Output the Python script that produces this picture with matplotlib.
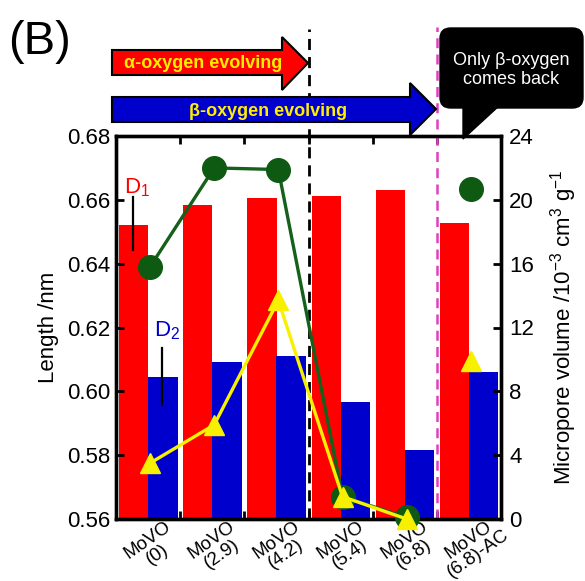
import matplotlib
matplotlib.use("Agg")
import matplotlib.pyplot as plt
from matplotlib.patches import Polygon, FancyBboxPatch

plt.rcParams['font.family'] = ['Liberation Sans', 'DejaVu Sans']
plt.rcParams['mathtext.fontset'] = 'custom'
plt.rcParams['mathtext.rm'] = 'Liberation Sans'
plt.rcParams['mathtext.it'] = 'Liberation Sans'
plt.rcParams['mathtext.default'] = 'regular'

samples = ["MoVO\n(0)", "MoVO\n(2.9)", "MoVO\n(4.2)", "MoVO\n(5.4)", "MoVO\n(6.8)", "MoVO\n(6.8)-AC"]
d1 = [0.652, 0.6585, 0.6605, 0.6613, 0.663, 0.6527]
d2 = [0.6045, 0.6093, 0.6112, 0.5967, 0.5815, 0.6062]
micro_green = [15.8, 22.0, 21.9, 1.4, 0.1, 20.7]
micro_yellow = [3.5, 5.9, 13.7, 1.4, 0.0, 9.9]

W, H = 585, 581
fig = plt.figure(figsize=(W / 100, H / 100), dpi=100)
ax = fig.add_axes([116 / W, 1 - 519 / H, 385 / W, 383 / H])
ax2 = ax.twinx()

def px(x, y):
    return (x / W, 1 - y / H)

# bars
n = len(samples)
idx = list(range(n))
ax.bar([i + 0.275 for i in idx], d1, width=0.455, color='#ff0000', zorder=1)
ax.bar([i + 0.73 for i in idx], d2, width=0.46, color='#0000cc', zorder=1)
ax.set_xlim(0, n)
ax.set_ylim(0.56, 0.68)
ax.set_yticks([0.56, 0.58, 0.60, 0.62, 0.64, 0.66, 0.68])
ax.set_yticklabels(["0.56", "0.58", "0.60", "0.62", "0.64", "0.66", "0.68"])
ax.set_xticks([1, 2, 3, 4, 5])
ax.set_xticklabels([])
ax.tick_params(axis='both', direction='in', width=2, length=6, labelsize=16,
               top=True, pad=4)
ax.set_ylabel("Length /nm", fontsize=16, labelpad=6)

# dashed separators
ax.axvline(3, ymin=0, ymax=(519 - 29) / 383, color='black', lw=2,
           ls=(0, (4, 2.5)), clip_on=False, zorder=3)
ax.axvline(5, ymin=0, ymax=(519 - 27) / 383, color='#e040c0', lw=1.8,
           ls=(0, (4, 2.5)), clip_on=False, zorder=3)

# D1 / D2 markers
ax.text(0.32, 0.6637, "D$_1$", color='#ff0000', fontsize=16, ha='center', va='center')
ax.plot([0.26, 0.26], [0.6609, 0.6443], color='black', lw=1.6)
ax.text(0.79, 0.619, "D$_2$", color='#0000cc', fontsize=16, ha='center', va='center')
ax.plot([0.72, 0.72], [0.6136, 0.5957], color='black', lw=1.6)

# x labels
for i, lab in enumerate(samples):
    ax.text(i + 0.57, -0.074, lab, transform=ax.get_xaxis_transform(),
            rotation=35, rotation_mode='anchor', ha='center', va='center',
            multialignment='center', fontsize=13.5, linespacing=0.95)

# micropore volume
xs = [i + 0.53 for i in idx]
ax2.set_zorder(ax.get_zorder() + 1)
ax2.patch.set_visible(False)
ax2.plot(xs[:5], micro_green[:5], color='#15601a', lw=2.4, marker='o',
         markersize=17, markerfacecolor='#0e5a12', markeredgecolor='#0e5a12',
         clip_on=False, zorder=4)
ax2.plot(xs[5], micro_green[5], 'o', color='#0e5a12', markersize=17, zorder=4)
ax2.plot(xs[:5], micro_yellow[:5], color='#f7f000', lw=2.4, marker='^',
         markersize=14, markerfacecolor='#f7f000', markeredgecolor='#f7f000',
         clip_on=False, zorder=5)
ax2.plot(xs[5], micro_yellow[5], '^', color='#f7f000', markersize=14, zorder=5)
ax2.set_ylim(0, 24)
ax2.set_yticks([0, 4, 8, 12, 16, 20, 24])
ax2.tick_params(axis='y', direction='in', width=2, length=6, labelsize=16, pad=6)
ax2.set_ylabel("Micropore volume /10$^{-3}$ cm$^3$ g$^{-1}$", fontsize=16, labelpad=10)

for a in (ax, ax2):
    for s in a.spines.values():
        s.set_linewidth(2.4)

# arrows above the plot
red_arrow = [px(112, 50), px(282, 50), px(282, 37), px(308, 63),
             px(282, 90), px(282, 75), px(112, 75)]
blue_arrow = [px(112, 97), px(410, 97), px(410, 83), px(436, 109),
              px(410, 135), px(410, 122), px(112, 122)]
fig.patches.append(Polygon(red_arrow, closed=True, facecolor='#ff0000',
                           edgecolor='black', lw=1.5, transform=fig.transFigure))
fig.patches.append(Polygon(blue_arrow, closed=True, facecolor='#0000cc',
                           edgecolor='black', lw=1.5, transform=fig.transFigure))
fig.text(*px(203, 64), "α-oxygen evolving", color='#ffee00', fontsize=13,
         fontweight='bold', ha='center', va='center')
fig.text(*px(268, 111), "β-oxygen evolving", color='#ffee00', fontsize=13,
         fontweight='bold', ha='center', va='center')

# callout
x0, y0 = px(440, 108)
x1, y1 = px(583, 28)
fig.patches.append(FancyBboxPatch((x0, y0), x1 - x0, y1 - y0,
                                  boxstyle="round,pad=0,rounding_size=0.018",
                                  facecolor='black', edgecolor='black',
                                  transform=fig.transFigure))
fig.patches.append(Polygon([px(463, 105), px(463, 139), px(500, 105)], closed=True,
                           facecolor='black', edgecolor='black',
                           transform=fig.transFigure))
fig.text(*px(511, 70), "Only β-oxygen\ncomes back", color='white', fontsize=13,
         ha='center', va='center', linespacing=1.1)

fig.text(*px(8, 42), "(B)", fontsize=34, ha='left', va='center')

fig.savefig("out.png", dpi=100)
